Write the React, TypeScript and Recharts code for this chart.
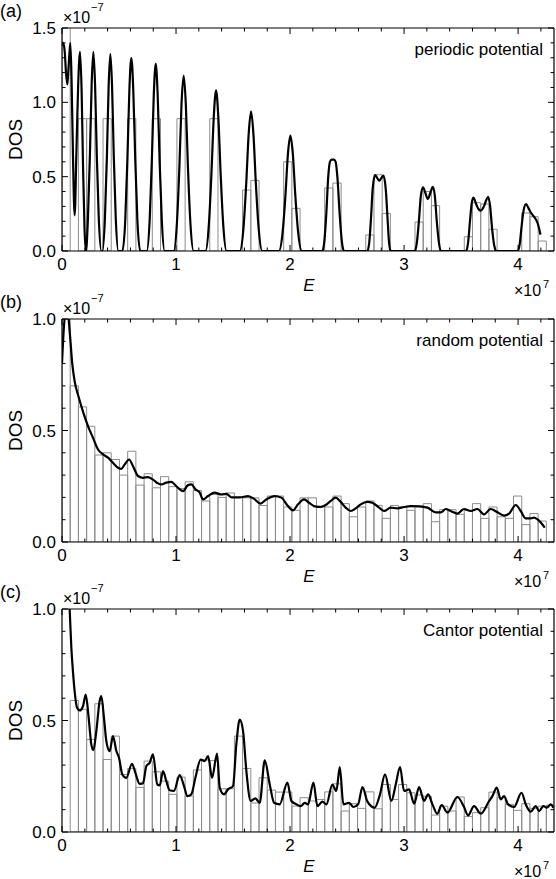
import { ComposedChart, Bar, Line, XAxis, YAxis, ReferenceLine } from "recharts"

// histogram bin centres (x10^7), bin width 0.072
const BIN_CENTERS = [
  0.036, 0.108, 0.18, 0.252, 0.324, 0.396, 0.468, 0.54, 0.612, 0.684,
  0.756, 0.828, 0.9, 0.972, 1.044, 1.116, 1.188, 1.26, 1.332, 1.404,
  1.476, 1.548, 1.62, 1.692, 1.764, 1.836, 1.908, 1.98, 2.052, 2.124,
  2.196, 2.268, 2.34, 2.412, 2.484, 2.556, 2.628, 2.7, 2.772, 2.844,
  2.916, 2.988, 3.06, 3.132, 3.204, 3.276, 3.348, 3.42, 3.492, 3.564,
  3.636, 3.708, 3.78, 3.852, 3.924, 3.996, 4.068, 4.14, 4.212, 4.284,
]

const periodicHist = [
  1.78, 0, 0.89, 0.89, 0, 0.89, 0, 0, 0.89, 0,
  0, 0.89, 0, 0, 0.89, 0, 0, 0, 0.89, 0,
  0, 0, 0.41, 0.475, 0, 0, 0, 0.6, 0.287, 0,
  0, 0, 0.424, 0.457, 0, 0, 0, 0.108, 0.513, 0.253,
  0, 0, 0, 0.195, 0.4, 0.305, 0, 0, 0, 0.096,
  0.325, 0.316, 0.146, 0, 0, 0, 0.256, 0.231, 0.067,
]

const randomHist = [
  1.1, 0.7, 0.606, 0.519, 0.39, 0.4, 0.37, 0.3, 0.407, 0.255,
  0.306, 0.243, 0.293, 0.248, 0.24, 0.27, 0.231, 0.184, 0.213, 0.2,
  0.22, 0.2, 0.198, 0.198, 0.164, 0.206, 0.206, 0.157, 0.142, 0.198,
  0.198, 0.161, 0.157, 0.206, 0.172, 0.113, 0.157, 0.184, 0.164, 0.106,
  0.164, 0.157, 0.142, 0.161, 0.172, 0.091, 0.145, 0.145, 0.124, 0.142,
  0.172, 0.106, 0.157, 0.113, 0.106, 0.206, 0.078, 0.128, 0.094,
]

const cantorHist = [
  0, 0.59, 0.55, 0.415, 0.575, 0.325, 0.43, 0.258, 0.285, 0.2,
  0.318, 0.27, 0.228, 0.169, 0.246, 0.161, 0.278, 0.323, 0.32, 0.194,
  0.194, 0.43, 0.285, 0.13, 0.243, 0.188, 0.179, 0.179, 0.116, 0.154,
  0.139, 0.146, 0.18, 0.216, 0.094, 0.127, 0.106, 0.18, 0.104, 0.213,
  0.146, 0.213, 0.176, 0.166, 0.16, 0.076, 0.116, 0.094, 0.157, 0.069,
  0.087, 0.109, 0.179, 0.154, 0.124, 0.097, 0.127, 0.106, 0.116, 0.12,
]

// smoothed DOS curves: [E (x10^7), DOS (x10^-7)]
const periodicCurve: [number, number][] = [
  [0, 1.38], [0.012, 1.4], [0.025, 1.33], [0.035, 1.2], [0.047, 1.12], [0.058, 1.24],
  [0.073, 1.4], [0.084, 1.15], [0.096, 0.65], [0.111, 0.24], [0.126, 0.65], [0.142, 1.12],
  [0.158, 1.34], [0.172, 1.08], [0.185, 0.55], [0.198, 0.14], [0.21, 0],
  [0.2275, 0.22], [0.245, 0.65], [0.26, 1.12], [0.275, 1.34], [0.29, 1.12], [0.305, 0.65], [0.3225, 0.22], [0.345, 0],
  [0.354, 0], [0.3765, 0.22], [0.394, 0.64], [0.409, 1.11], [0.424, 1.325], [0.439, 1.11], [0.454, 0.64], [0.4715, 0.22], [0.494, 0],
  [0.53, 0], [0.555, 0.21], [0.574, 0.63], [0.591, 1.085], [0.608, 1.3], [0.625, 1.085], [0.642, 0.63], [0.661, 0.21], [0.686, 0],
  [0.744, 0], [0.769, 0.21], [0.788, 0.61], [0.805, 1.05], [0.822, 1.26], [0.839, 1.05], [0.856, 0.61], [0.875, 0.21], [0.9, 0],
  [0.98, 0], [1.008, 0.19], [1.03, 0.575], [1.048, 0.985], [1.067, 1.18], [1.086, 0.985], [1.104, 0.575], [1.126, 0.19], [1.154, 0],
  [1.259, 0], [1.288, 0.177], [1.311, 0.526], [1.331, 0.9], [1.351, 1.08], [1.371, 0.9], [1.391, 0.526], [1.414, 0.177], [1.443, 0],
  [1.56, 0], [1.5915, 0.154], [1.616, 0.458], [1.637, 0.785], [1.658, 0.94], [1.679, 0.785], [1.7, 0.458], [1.7245, 0.154], [1.756, 0],
  [1.903, 0], [1.935, 0.127], [1.96, 0.378], [1.981, 0.648], [2.003, 0.776], [2.025, 0.648], [2.046, 0.378], [2.071, 0.127], [2.103, 0],
  [2.283, 0], [2.3, 0.06], [2.318, 0.25], [2.335, 0.5], [2.35, 0.6], [2.365, 0.614], [2.385, 0.614], [2.4, 0.6], [2.415, 0.5], [2.435, 0.25], [2.455, 0.06], [2.474, 0],
  [2.678, 0], [2.695, 0.06], [2.71, 0.22], [2.725, 0.42], [2.746, 0.511], [2.765, 0.49], [2.783, 0.473], [2.8, 0.49], [2.819, 0.507], [2.84, 0.41], [2.855, 0.22], [2.868, 0.06], [2.883, 0],
  [3.095, 0], [3.113, 0.06], [3.13, 0.2], [3.147, 0.37], [3.166, 0.428], [3.187, 0.39], [3.208, 0.35], [3.23, 0.39], [3.252, 0.432], [3.27, 0.37], [3.287, 0.2], [3.305, 0.06], [3.323, 0],
  [3.545, 0], [3.562, 0.06], [3.578, 0.2], [3.593, 0.32], [3.608, 0.36], [3.63, 0.32], [3.655, 0.28], [3.675, 0.272], [3.7, 0.3], [3.722, 0.345], [3.738, 0.365], [3.755, 0.3], [3.772, 0.15], [3.79, 0.04], [3.807, 0],
  [3.997, 0], [4.015, 0.05], [4.03, 0.16], [4.05, 0.28], [4.07, 0.316], [4.09, 0.29], [4.11, 0.26], [4.13, 0.24], [4.15, 0.22], [4.17, 0.19], [4.185, 0.15], [4.196, 0.11],
]

const randomCurve: [number, number][] = [
  [0, 0.8], [0.015, 0.95], [0.03, 1.03], [0.05, 1.03], [0.068, 0.94], [0.09, 0.8], [0.111, 0.72],
  [0.146, 0.65], [0.184, 0.585], [0.228, 0.52], [0.272, 0.467], [0.316, 0.415], [0.36, 0.393],
  [0.404, 0.378], [0.447, 0.355], [0.491, 0.333], [0.52, 0.328], [0.55, 0.348], [0.588, 0.37],
  [0.623, 0.34], [0.667, 0.296], [0.711, 0.288], [0.754, 0.291], [0.798, 0.28], [0.842, 0.263],
  [0.871, 0.258], [0.915, 0.266], [0.959, 0.27], [1.003, 0.25], [1.061, 0.228], [1.105, 0.255],
  [1.135, 0.258], [1.17, 0.236], [1.208, 0.221], [1.237, 0.191], [1.281, 0.206], [1.339, 0.221],
  [1.398, 0.213], [1.442, 0.216], [1.485, 0.2], [1.559, 0.2], [1.632, 0.206], [1.69, 0.191],
  [1.74, 0.172], [1.792, 0.191], [1.865, 0.206], [1.924, 0.199], [1.982, 0.161], [2.026, 0.142],
  [2.07, 0.169], [2.123, 0.191], [2.167, 0.176], [2.211, 0.161], [2.269, 0.157], [2.313, 0.166],
  [2.357, 0.184], [2.4, 0.199], [2.444, 0.18], [2.488, 0.154], [2.532, 0.139], [2.576, 0.151],
  [2.62, 0.169], [2.678, 0.18], [2.722, 0.176], [2.781, 0.154], [2.825, 0.139], [2.883, 0.154],
  [2.942, 0.151], [3.0, 0.157], [3.058, 0.161], [3.132, 0.16], [3.205, 0.154], [3.278, 0.133],
  [3.322, 0.133], [3.366, 0.148], [3.409, 0.139], [3.468, 0.127], [3.526, 0.148], [3.585, 0.139],
  [3.643, 0.148], [3.702, 0.124], [3.76, 0.148], [3.819, 0.133], [3.877, 0.118], [3.921, 0.127],
  [3.98, 0.166], [4.023, 0.139], [4.067, 0.106], [4.111, 0.106], [4.14, 0.109], [4.17, 0.101],
  [4.199, 0.087], [4.234, 0.064],
]

const cantorCurve: [number, number][] = [
  [0, 1.7], [0.02, 1.5], [0.045, 1.2], [0.067, 1.0], [0.082, 0.825], [0.096, 0.72], [0.111, 0.63],
  [0.132, 0.557], [0.155, 0.545], [0.184, 0.564], [0.208, 0.616], [0.234, 0.512], [0.257, 0.393],
  [0.275, 0.367], [0.301, 0.452], [0.33, 0.587], [0.345, 0.609], [0.368, 0.512], [0.389, 0.407],
  [0.418, 0.363], [0.447, 0.43], [0.477, 0.363], [0.5, 0.333], [0.529, 0.258], [0.564, 0.243],
  [0.614, 0.306], [0.643, 0.266], [0.681, 0.216], [0.71, 0.218], [0.74, 0.296], [0.769, 0.31],
  [0.798, 0.348], [0.836, 0.213], [0.857, 0.209], [0.886, 0.273], [0.915, 0.228], [0.944, 0.187],
  [0.982, 0.184], [1.032, 0.255], [1.07, 0.206], [1.099, 0.161], [1.134, 0.169], [1.17, 0.243],
  [1.216, 0.325], [1.251, 0.318], [1.281, 0.34], [1.316, 0.243], [1.36, 0.352], [1.383, 0.199],
  [1.421, 0.169], [1.456, 0.191], [1.5, 0.206], [1.529, 0.393], [1.559, 0.504], [1.588, 0.452],
  [1.617, 0.273], [1.655, 0.139], [1.696, 0.151], [1.734, 0.131], [1.778, 0.321], [1.822, 0.213],
  [1.86, 0.131], [1.909, 0.124], [1.977, 0.221], [2.012, 0.139], [2.047, 0.127], [2.094, 0.116],
  [2.129, 0.131], [2.158, 0.124], [2.205, 0.221], [2.24, 0.116], [2.284, 0.136], [2.319, 0.124],
  [2.371, 0.213], [2.406, 0.184], [2.436, 0.291], [2.468, 0.124], [2.518, 0.131], [2.556, 0.112],
  [2.597, 0.124], [2.635, 0.201], [2.679, 0.136], [2.742, 0.109], [2.789, 0.169], [2.833, 0.258],
  [2.889, 0.139], [2.927, 0.213], [2.965, 0.291], [3.0, 0.184], [3.044, 0.191], [3.088, 0.127],
  [3.132, 0.201], [3.175, 0.139], [3.211, 0.169], [3.249, 0.124], [3.292, 0.082], [3.33, 0.121],
  [3.38, 0.087], [3.468, 0.157], [3.526, 0.112], [3.561, 0.075], [3.614, 0.116], [3.673, 0.082],
  [3.746, 0.139], [3.775, 0.161], [3.813, 0.199], [3.848, 0.146], [3.877, 0.161], [3.912, 0.124],
  [3.965, 0.112], [4.03, 0.176], [4.067, 0.124], [4.111, 0.091], [4.155, 0.116], [4.184, 0.094],
  [4.222, 0.116], [4.251, 0.109], [4.287, 0.124], [4.31, 0.109],
]

const E_TICKS = [0, 1, 2, 3, 4]
const E_MINOR = [0.2, 0.4, 0.6, 0.8, 1.2, 1.4, 1.6, 1.8, 2.2, 2.4, 2.6, 2.8, 3.2, 3.4, 3.6, 3.8, 4.2]
const DOS_TICKS_A = [0, 0.5, 1, 1.5]
const DOS_MINOR_A = [0.1, 0.2, 0.3, 0.4, 0.6, 0.7, 0.8, 0.9, 1.1, 1.2, 1.3, 1.4]
const DOS_TICKS = [0, 0.5, 1]
const DOS_MINOR = [0.1, 0.2, 0.3, 0.4, 0.6, 0.7, 0.8, 0.9]

const PANELS = [
  { tag: "(a)", name: "periodic potential", hist: periodicHist, curve: periodicCurve, yMax: 1.5, yTicks: DOS_TICKS_A, yMinor: DOS_MINOR_A },
  { tag: "(b)", name: "random potential", hist: randomHist, curve: randomCurve, yMax: 1, yTicks: DOS_TICKS, yMinor: DOS_MINOR },
  { tag: "(c)", name: "Cantor potential", hist: cantorHist, curve: cantorCurve, yMax: 1, yTicks: DOS_TICKS, yMinor: DOS_MINOR },
]

const E_MAX = 4.315
const W = 556
const PANEL_H = 290
const TOP = 28
const PLOT_H = 223
const PLOT_L = 62
const PLOT_R = 554
const MAJOR = 6
const MINOR = 3.5
const FONT = "'Liberation Sans', Arial, Helvetica, sans-serif"
const frame = { stroke: "#000", strokeWidth: 1.2 }

// bottom tick: inward tick at the bottom and mirrored one at the top, label on majors
function ETick({ x, y, payload }: any) {
  const major = E_TICKS.includes(payload.value)
  const len = major ? MAJOR : MINOR
  return (
    <g>
      <line x1={x} x2={x} y1={y} y2={y - len} stroke="#000" />
      <line x1={x} x2={x} y1={TOP} y2={TOP + len} stroke="#000" />
      {major && (
        <text x={x} y={y + 19} textAnchor="middle" fontSize={17} fontFamily={FONT} fill="#000">
          {payload.value}
        </text>
      )}
    </g>
  )
}

function makeDosTick(majors: number[]) {
  return function DosTick({ x, y, payload }: any) {
    const major = majors.includes(payload.value)
    const len = major ? MAJOR : MINOR
    return (
      <g>
        <line x1={x} x2={x + len} y1={y} y2={y} stroke="#000" />
        <line x1={PLOT_R - len} x2={PLOT_R} y1={y} y2={y} stroke="#000" />
        {major && (
          <text x={x - 6} y={y} dy="0.36em" textAnchor="end" fontSize={17} fontFamily={FONT} fill="#000">
            {payload.value.toFixed(1)}
          </text>
        )}
      </g>
    )
  }
}

function Panel({ hist, curve, yMax, yTicks, yMinor }: typeof PANELS[number]) {
  const bars = hist.map((h, i) => ({ e: BIN_CENTERS[i], h }))
  const line = curve.map(([e, v]) => ({ e, v }))
  const eAll = [...E_TICKS, ...E_MINOR].sort((a, b) => a - b)
  const dAll = [...yTicks, ...yMinor].sort((a, b) => a - b)
  return (
    <ComposedChart width={W} height={PANEL_H} data={bars} margin={{ top: TOP, right: W - PLOT_R, bottom: 0, left: 0 }}>
      <XAxis xAxisId="main" dataKey="e" type="number" domain={[0, E_MAX]} allowDataOverflow ticks={eAll}
        interval={0} tickLine={false} tickSize={0} tickMargin={0} height={PANEL_H - TOP - PLOT_H}
        axisLine={frame} tick={<ETick />} />
      <XAxis xAxisId="curve" dataKey="e" type="number" domain={[0, E_MAX]} allowDataOverflow hide height={0} />
      <YAxis yAxisId="main" type="number" domain={[0, yMax]} allowDataOverflow ticks={dAll} interval={0}
        tickLine={false} tickSize={0} tickMargin={0} width={PLOT_L} axisLine={frame} tick={makeDosTick(yTicks)}
        label={{ value: "DOS", angle: -90, position: "center", dx: -16, fill: "#000", fontSize: 19, fontFamily: FONT }} />
      <ReferenceLine xAxisId="main" yAxisId="main" y={yMax} stroke="#000" strokeWidth={1.2} />
      <ReferenceLine xAxisId="main" yAxisId="main" x={E_MAX} stroke="#000" strokeWidth={1.2} />
      <Bar xAxisId="main" yAxisId="main" dataKey="h" barSize={8.2} fill="none" stroke="#8c8c8c" strokeWidth={1}
        isAnimationActive={false} />
      <Line xAxisId="curve" yAxisId="main" data={line} dataKey="v" type="monotone" stroke="#000" strokeWidth={2.2}
        dot={false} isAnimationActive={false} />
    </ComposedChart>
  )
}

export default function App() {
  return (
    <div style={{ position: "absolute", left: 0, top: 0, width: W, height: 879, background: "#fff" }}>
      {PANELS.map((p, i) => (
        <div key={p.tag} style={{ position: "absolute", left: 0, top: i * 290.5 }}>
          <Panel {...p} />
        </div>
      ))}
      <svg width={W} height={879} style={{ position: "absolute", left: 0, top: 0, pointerEvents: "none" }}
        fontFamily={FONT} fill="#000">
        {PANELS.map((p, i) => {
          const t = i * 290.5 + TOP
          const b = t + PLOT_H
          return (
            <g key={p.tag}>
              <text x={0} y={t - 11} fontSize={18}>{p.tag}</text>
              <text x={63} y={t - 5} fontSize={16}>×10</text>
              <text x={91} y={t - 17} fontSize={11}>−7</text>
              <text x={543} y={t + 27} fontSize={17} textAnchor="end">{p.name}</text>
              <text x={309} y={b + 40} fontSize={17} fontStyle="italic" textAnchor="middle">E</text>
              <text x={514} y={b + 45} fontSize={16}>×10</text>
              <text x={543} y={b + 37} fontSize={11}>7</text>
            </g>
          )
        })}
      </svg>
    </div>
  )
}
